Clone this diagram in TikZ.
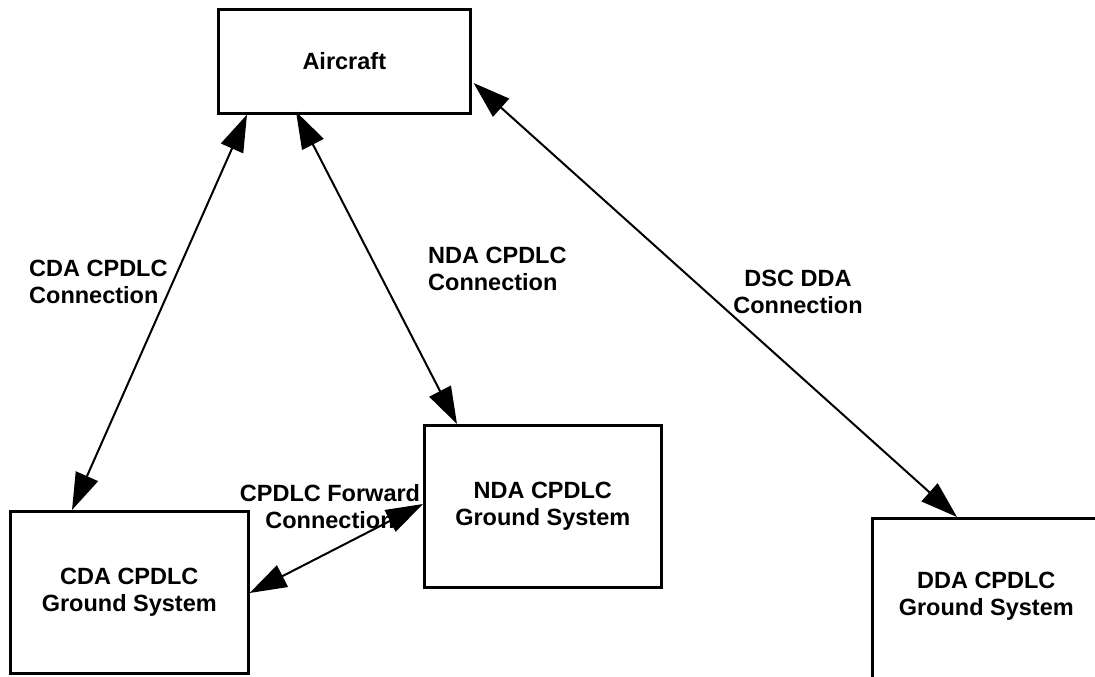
\documentclass[tikz,border=0pt]{standalone}
\usepackage{fontspec}
\setmainfont{Liberation Sans}
\usetikzlibrary{arrows.meta,positioning}
\begin{document}
\begin{tikzpicture}[x=1pt,y=-1pt,
  every node/.style={font=\fontsize{23.5}{26.5}\selectfont\bfseries},
  box/.style={draw, line width=2.6pt, inner sep=0pt, anchor=north west, align=center},
  conn/.style={line width=2pt, {Triangle[length=37pt,width=24pt]}-{Triangle[length=37pt,width=24pt]}},
  lbl/.style={inner sep=0pt}]
\useasboundingbox (0,0) rectangle (1095,677);
\fill[white] (0,0) rectangle (1095,677);
\clip (0,0) rectangle (1095,677);
\node[box, minimum width=252pt, minimum height=104pt] (air) at (217,8) {Aircraft};
\node[box, minimum width=238pt, minimum height=162pt] (cda) at (9,510) {CDA CPDLC\\Ground System};
\node[box, minimum width=237pt, minimum height=162pt] (nda) at (423,424) {NDA CPDLC\\Ground System};
\node[box, minimum width=228pt, minimum height=164pt,
  label={[name=ddatext, align=center, inner sep=0pt, yshift=4pt]center:DDA CPDLC\\Ground System}] (dda) at (871,517) {};
\draw[conn] ([xshift=30pt]air.south west) -- ([xshift=63pt]cda.north west);
\draw[conn] ([xshift=79pt,yshift=3pt]air.south west) -- ([xshift=34pt]nda.north west);
\draw[conn] ([yshift=-75pt,xshift=2pt]air.north east) -- ([xshift=86pt]dda.north west);
\draw[conn] ([yshift=-80pt]nda.north west) -- ([yshift=-83pt]cda.north east);
\node[lbl, align=left, anchor=base west] (lcda) at (29,303) {CDA CPDLC\\Connection};
\node[lbl, align=left, anchor=base west] (lnda) at (428,290) {NDA CPDLC\\Connection};
\node[lbl, align=center, anchor=base] (ldsc) at (798,313) {DSC DDA\\Connection};
\node[lbl, align=center, anchor=base] (lfwd) at (330,528) {CPDLC Forward\\Connection};
\end{tikzpicture}
\end{document}
